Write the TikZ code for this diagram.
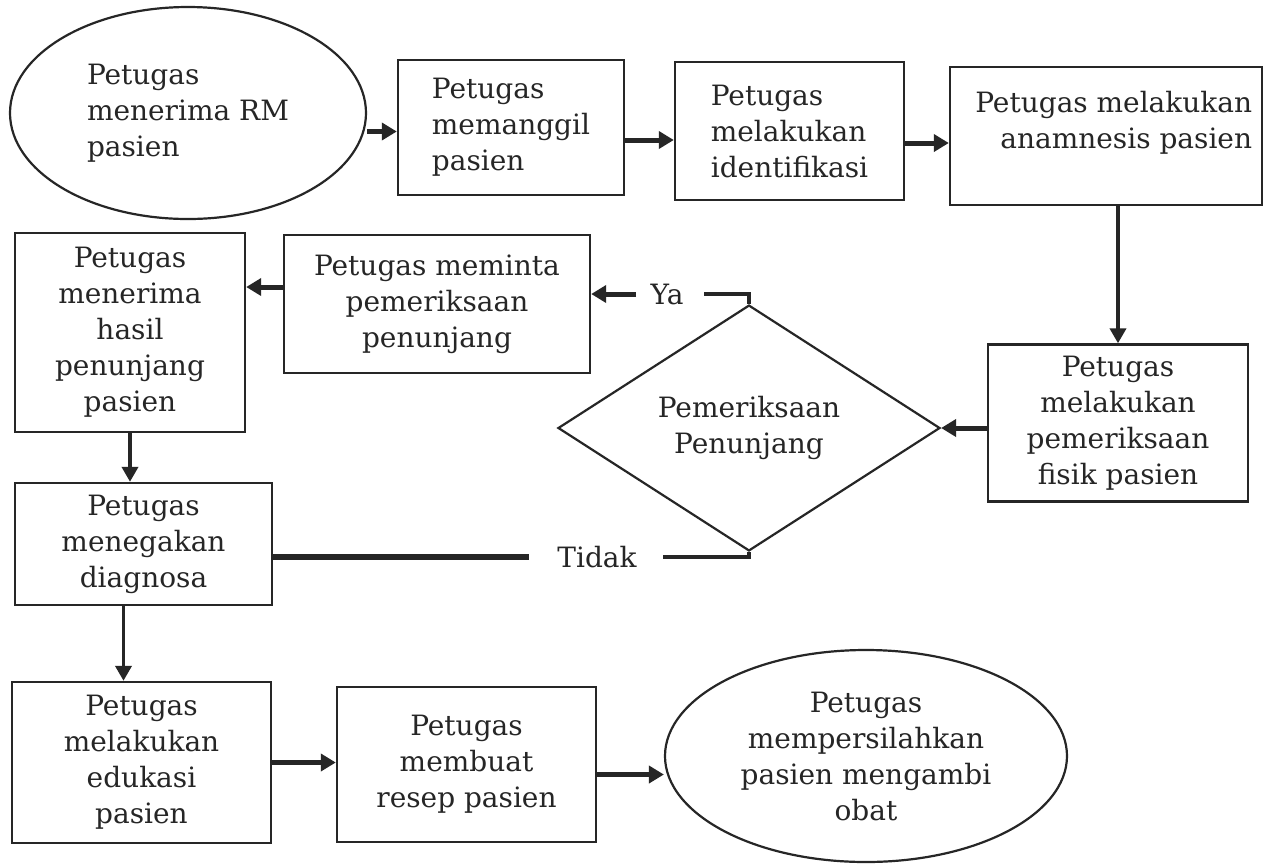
\documentclass[tikz,border=0pt]{standalone}
\usepackage{fontspec}
\setmainfont{DejaVu Serif}
\usetikzlibrary{shapes.geometric,arrows.meta,calc}
\definecolor{ink}{gray}{0.15}
\begin{document}
\begin{tikzpicture}[x=0.5pt,y=-0.5pt,
  every node/.style={font=\fontsize{14}{18}\selectfont, text=ink},
  box/.style={draw=ink, line width=1.2pt, rectangle, inner sep=0pt, align=center},
  oval/.style={draw=ink, line width=1.1pt, ellipse, inner sep=0pt, align=center},
  decision/.style={draw=ink, line width=1.1pt, diamond, inner sep=0pt, align=center},
  arr/.style={draw=ink, line width=2.5pt, -{Triangle[length=7.5pt,width=8.5pt]}},
  varr/.style={draw=ink, line width=1.9pt, -{Triangle[length=7.5pt,width=8pt]}},
  link/.style={draw=ink, line width=2.6pt},
  lab/.style={inner ysep=2pt, inner xsep=7pt}
]
\fill[white] (0,0) rectangle (1265,864);
\useasboundingbox (0,0) rectangle (1265,864);

% top row
\node[oval, minimum width=178pt, minimum height=106pt, align=left] (e1) at (188,113)
  {Petugas\\menerima RM\\pasien};
\node[box, minimum width=113pt, minimum height=67.5pt, align=left] (b2) at (511,127.5)
  {Petugas\\memanggil\\pasien};
\node[box, minimum width=114.5pt, minimum height=69pt, align=left] (b3) at (789.5,131)
  {Petugas\\melakukan\\identifikasi};
\node[box, minimum width=156pt, minimum height=69pt] (b4) at (1106,136) {};
\node[align=right, anchor=north east] (t4) at ($(b4.north east)+(-4,18)$)
  {Petugas melakukan\\anamnesis pasien};

% middle rows
\node[box, minimum width=130pt, minimum height=78.5pt] (b5) at (1118,423)
  {Petugas\\melakukan\\pemeriksaan\\fisik pasien};
\node[decision, minimum width=191pt, minimum height=105pt] (d) at (749,428)
  {Pemeriksaan\\Penunjang};
\node[box, minimum width=153pt, minimum height=69pt] (b7) at (437,304)
  {Petugas meminta\\pemeriksaan\\penunjang};
\node[box, minimum width=115pt, minimum height=99.5pt] (b6) at (130,332.5)
  {Petugas\\menerima\\hasil\\penunjang\\pasien};
\node[box, minimum width=128.5pt, minimum height=61pt] (b8) at (143.5,544)
  {Petugas\\menegakan\\diagnosa};

% bottom row
\node[box, minimum width=129.5pt, minimum height=80.5pt] (b9) at (141.5,762.5)
  {Petugas\\melakukan\\edukasi\\pasien};
\node[box, minimum width=129.5pt, minimum height=77.5pt] (b10) at (466.5,764.5)
  {Petugas\\membuat\\resep pasien};
\node[oval, minimum width=201pt, minimum height=106pt] (e2) at (866,756)
  {Petugas\\mempersilahkan\\pasien mengambi\\obat};

% decision labels
\node[lab] (ya) at (667,294) {Ya};
\coordinate (yaend) at (704,294);
\node[lab, inner xsep=14pt] (tidak) at (597,557) {Tidak};
\coordinate (tidakend) at (663,557);

% arrow rails
\coordinate (p1) at ($(b2.west)+(0,4)$);
\coordinate (p3) at ($(b3.west)+(0,9)$);
\coordinate (p4) at ($(b4.west)+(0,7)$);
\coordinate (p7) at ($(b7.west)+(0,-17)$);
\coordinate (p8) at ($(b8.south)+(-20,0)$);
\coordinate (p10) at ($(b10.east)+(0,10)$);

% flow
\draw[arr] (p1 -| e1.east) -- (p1);
\draw[arr] (p3 -| b2.east) -- (p3);
\draw[arr] (p4 -| b3.east) -- (p4);
\draw[varr] (b4.south -| b5.north) -- (b5.north);
\draw[arr] (b5.west |- d.east) -- (d.east);
\draw[link, line width=2pt] (d.north) |- (yaend);
\draw[arr] (ya.west) -- (ya.west -| b7.east);
\draw[arr] (p7) -- (p7 -| b6.east);
\draw[varr] (b6.south) -- (b6.south |- b8.north);
\draw[link, line width=2.2pt] (d.south) |- (tidakend);
\draw[link] (tidak.west) -- (tidak.west -| b8.east);
\draw[varr] (p8) -- (p8 |- b9.north);
\draw[arr] (b9.east) -- (b9.east -| b10.west);
\draw[arr] (p10) -- (p10 -| e2.west);
\end{tikzpicture}
\end{document}
